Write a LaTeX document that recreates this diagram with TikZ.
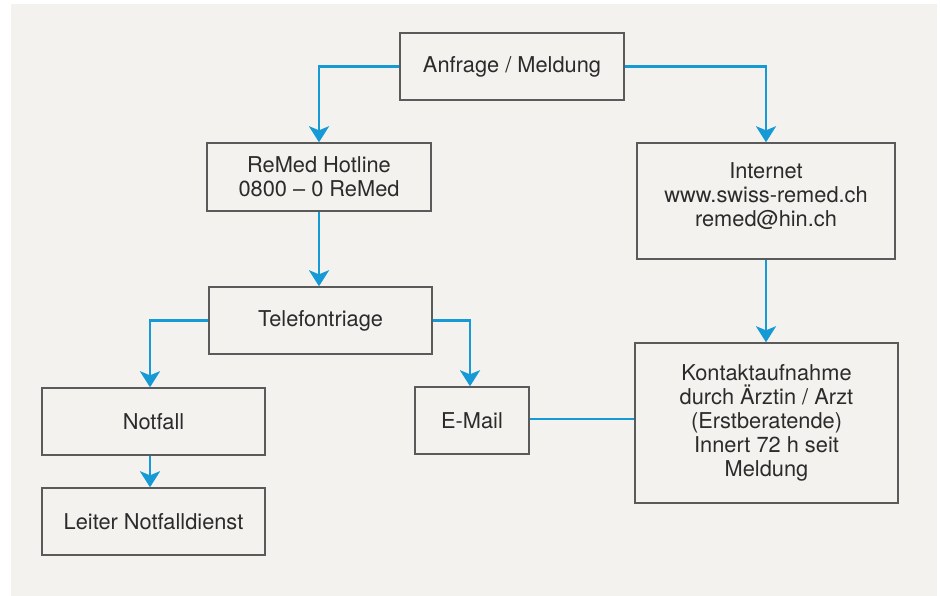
\documentclass[tikz,border=0pt]{standalone}
\usepackage{fontspec}
\setmainfont{TeX Gyre Heros}
\usetikzlibrary{arrows.meta,calc}
\definecolor{bgpanel}{HTML}{F4F2EF}
\definecolor{flowblue}{HTML}{159AD6}
\definecolor{boxline}{HTML}{5A5A5A}
\definecolor{txt}{HTML}{2B2B2B}
\tikzset{
  box/.style={draw=boxline, line width=1.4pt, fill=bgpanel, text=txt, align=center,
    inner sep=0pt, font=\fontsize{21.8pt}{24pt}\selectfont},
  flow/.style={draw=flowblue, line width=2.8pt,
    -{Stealth[length=16pt,width=20pt,inset=4pt]}},
  flowplain/.style={draw=flowblue, line width=2.8pt}
}
\begin{document}
\begin{tikzpicture}[x=1pt,y=-1pt]
\useasboundingbox (0,0) rectangle (940,596);
\fill[white] (0,0) rectangle (940,596);
\fill[bgpanel] (11,4) rectangle (937,596);

\node[box, minimum width=224pt, minimum height=67pt] (anf) at (512,66.5) {Anfrage / Meldung};
\node[box, minimum width=224pt, minimum height=68pt] (remed) at (319,177) {ReMed Hotline\\0800 -- 0 ReMed};
\node[box, minimum width=223pt, minimum height=67pt] (tel) at (320.5,320.5) {Telefontriage};
\node[box, minimum width=258pt, minimum height=116pt] (inet) at (766,201) {Internet\\www.swiss-remed.ch\\remed@hin.ch\\[-12pt]};
\node[box, minimum width=263pt, minimum height=160pt] (kontakt) at (766.5,423) {Kontaktaufnahme\\durch Ärztin / Arzt\\(Erstberatende)\\Innert 72 h seit\\Meldung};
\node[box, minimum width=223pt, minimum height=67pt] (notfall) at (153.5,421.5) {Notfall};
\node[box, minimum width=223pt, minimum height=67pt] (leiter) at (153.5,521.5) {Leiter Notfalldienst};
\node[box, minimum width=114pt, minimum height=67pt] (email) at (472,420.5) {E-Mail};

\draw[flow] (anf.west) -| (remed.north);
\draw[flow] (anf.east) -| (inet.north);
\draw[flow] (remed.south) -- (remed.south |- tel.north);
\draw[flow] (tel.west) -| ([xshift=-3.5pt]notfall.north);
\draw[flow] (tel.east) -| ([xshift=-2pt]email.north);
\draw[flow] ([xshift=-3.5pt]notfall.south) -- ([xshift=-3.5pt]leiter.north);
\draw[flow] (inet.south) -- (inet.south |- kontakt.north);
\draw[flowplain] ([yshift=1.5pt]email.east) -- ([yshift=1.5pt]email.east -| kontakt.west);
\end{tikzpicture}
\end{document}
